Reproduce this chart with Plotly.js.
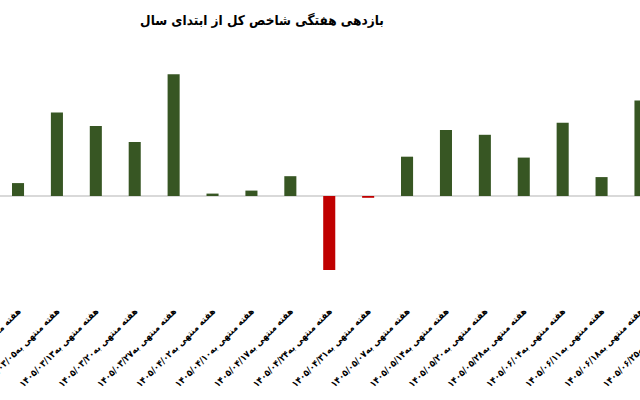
<!DOCTYPE html>
<html>
<head>
<meta charset="utf-8">
<script src="https://cdn.plot.ly/plotly-3.0.1.min.js"></script>
<style>
html, body { margin:0; padding:0; overflow:hidden; background:#fff; width:640px; height:400px; }
#chart { width:700px; height:400px; }
</style>
</head>
<body>
<div id="chart"></div>
<script>
const weeks = [
  "هفته منتهی به۱۴۰۵/۰۲/۳۰",
  "هفته منتهی به۱۴۰۵/۰۳/۰۵",
  "هفته منتهی به۱۴۰۵/۰۳/۱۳",
  "هفته منتهی به۱۴۰۵/۰۳/۲۰",
  "هفته منتهی به۱۴۰۵/۰۳/۲۷",
  "هفته منتهی به۱۴۰۵/۰۴/۰۲",
  "هفته منتهی به۱۴۰۵/۰۴/۱۰",
  "هفته منتهی به۱۴۰۵/۰۴/۱۷",
  "هفته منتهی به۱۴۰۵/۰۴/۲۴",
  "هفته منتهی به۱۴۰۵/۰۴/۳۱",
  "هفته منتهی به۱۴۰۵/۰۵/۰۷",
  "هفته منتهی به۱۴۰۵/۰۵/۱۴",
  "هفته منتهی به۱۴۰۵/۰۵/۲۰",
  "هفته منتهی به۱۴۰۵/۰۵/۲۸",
  "هفته منتهی به۱۴۰۵/۰۶/۰۴",
  "هفته منتهی به۱۴۰۵/۰۶/۱۱",
  "هفته منتهی به۱۴۰۵/۰۶/۱۸",
  "هفته منتهی به۱۴۰۵/۰۶/۲۵"
];
const weeklyReturn = [0.43, 2.78, 2.33, 1.80, 4.06, 0.08, 0.18, 0.66, -2.47, -0.06, 1.31, 2.20, 2.04, 1.28, 2.44, 0.63, 3.18, null];
const titleText = "بازدهی هفتگی شاخص کل از ابتدای سال";

const colors = weeklyReturn.map(v => (v !== null && v < 0) ? "#c00000" : "#375623");

const trace = {
  type: "bar",
  x: weeks,
  y: weeklyReturn,
  marker: { color: colors },
  width: 0.31,
  hoverinfo: "skip"
};

const layout = {
  width: 700,
  height: 400,
  margin: { l: 0, r: 0, t: 60, b: 97 },
  paper_bgcolor: "#ffffff",
  plot_bgcolor: "#ffffff",
  showlegend: false,
  title: {
    text: titleText,
    font: { family: "DejaVu Sans Condensed, DejaVu Sans", size: 13.5, color: "#000000", weight: "bold" },
    x: 262 / 700, xref: "container", xanchor: "center",
    y: 1 - 20 / 400, yref: "container", yanchor: "middle"
  },
  xaxis: {
    type: "category",
    range: [-0.463, 17.53],
    tickangle: -45,
    tickfont: { family: "DejaVu Sans Condensed, DejaVu Sans", size: 9.3, color: "#000000", weight: "bold" },
    showgrid: false,
    zeroline: false,
    showline: false,
    ticks: ""
  },
  yaxis: {
    range: [-3.567, 4.533],
    showticklabels: false,
    showgrid: false,
    zeroline: true,
    zerolinecolor: "#d9d9d9",
    zerolinewidth: 1.5,
    showline: false,
    ticks: ""
  }
};

Plotly.newPlot("chart", [trace], layout, { displayModeBar: false, staticPlot: true });
</script>
</body>
</html>
